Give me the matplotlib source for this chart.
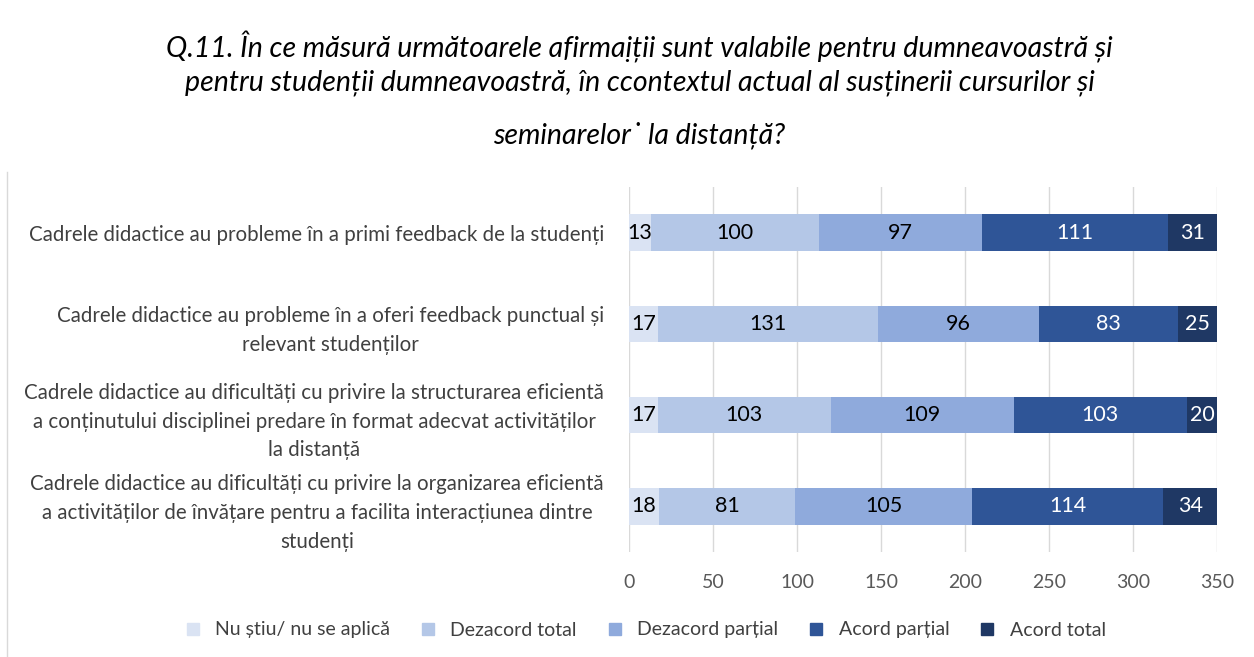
import matplotlib.pyplot as plt
from matplotlib.lines import Line2D

plt.rcParams['font.family'] = ['Lato', 'DejaVu Sans']

# categories (top to bottom) and series values
categories = [
    "Cadrele didactice au probleme în a primi feedback de la studenți",
    "Cadrele didactice au probleme în a oferi feedback punctual și\nrelevant studenților",
    "Cadrele didactice au dificultăți cu privire la structurarea eficientă\na conținutului disciplinei predare în format adecvat activităților\nla distanță",
    "Cadrele didactice au dificultăți cu privire la organizarea eficientă\na activităților de învățare pentru a facilita interacțiunea dintre\nstudenți",
]
series = ["Nu știu/ nu se aplică", "Dezacord total", "Dezacord parțial", "Acord parțial", "Acord total"]
nu_stiu = [13, 17, 17, 18]
dezacord_total = [100, 131, 103, 81]
dezacord_partial = [97, 96, 109, 105]
acord_partial = [111, 83, 103, 114]
acord_total = [31, 25, 20, 34]
values = [nu_stiu, dezacord_total, dezacord_partial, acord_partial, acord_total]
xticks = [0, 50, 100, 150, 200, 250, 300, 350]

colors = ["#dae3f3", "#b4c7e7", "#8faadc", "#2f5597", "#1f3864"]
text_colors = ["black", "black", "black", "white", "white"]

fig = plt.figure(figsize=(12.54, 6.57), dpi=100)
ax = fig.add_axes([0.5016, 0.1598, 0.4689, 0.5556])

ypos = list(range(len(categories)))
left = [0] * len(categories)
for vals, col, tc in zip(values, colors, text_colors):
    bars = ax.barh(ypos, vals, left=left, height=0.4, color=col, zorder=3)
    ax.bar_label(bars, labels=[str(v) for v in vals], label_type='center',
                 color=tc, fontsize=15.5)
    left = [l + v for l, v in zip(left, vals)]

ax.set_ylim(3.5, -0.5)
ax.set_xlim(0, 350)
ax.set_xticks(xticks)
ax.tick_params(axis='x', length=0, labelsize=14, labelcolor='#595959', pad=16)
ax.set_yticks(ypos)
ax.set_yticklabels(categories, fontsize=14.8, color='#404040', multialignment='center',
                   linespacing=1.55)
ax.tick_params(axis='y', length=0, pad=18)
ax.grid(axis='x', color='#d9d9d9', linewidth=1, zorder=0)
for s in ax.spines.values():
    s.set_visible(False)

# title
title_kw = dict(ha='center', va='center', fontsize=20.5, style='italic', color='black')
fig.text(0.51, 1 - 47 / 657, "Q.11. În ce măsură următoarele afirmaịții sunt valabile pentru dumneavoastră și", **title_kw)
fig.text(0.51, 1 - 83 / 657, "pentru studenții dumneavoastră, în ccontextul actual al susținerii cursurilor și", **title_kw)
fig.text(0.51, 1 - 135 / 657, "seminarelor˙ la distanță?", **title_kw)

# legend
handles = [Line2D([], [], marker='s', linestyle='none', markersize=9, color=c) for c in colors]
fig.legend(handles, series, loc='center', bbox_to_anchor=(0.51, 1 - 630 / 657), ncol=5,
           frameon=False, fontsize=14, handletextpad=0.15, columnspacing=0.95,
           labelcolor='#404040')

# thin frame line at left
fig.add_artist(Line2D([7 / 1254, 7 / 1254], [0, 1 - 172 / 657], transform=fig.transFigure,
                      color='#d9d9d9', linewidth=1))

fig.savefig("out.png", dpi=100)
